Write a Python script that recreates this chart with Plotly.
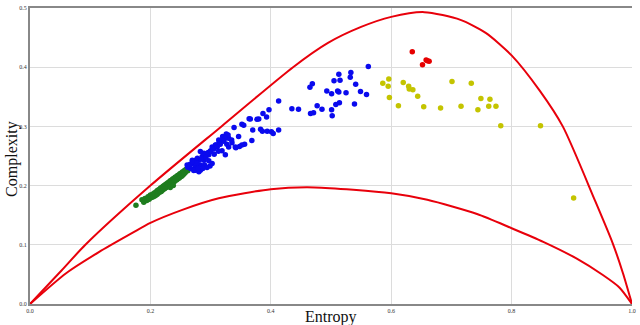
import plotly.graph_objects as go

# boundary curves (max / min complexity)
upper_h = [0, 0.05, 0.092, 0.2, 0.318, 0.437, 0.495, 0.55, 0.6, 0.655, 0.715, 0.757, 0.8, 0.847, 0.885, 0.938, 0.968, 0.985, 1.0]
upper_c = [0, 0.054, 0.1, 0.2, 0.3, 0.4, 0.441, 0.468, 0.485, 0.493, 0.48, 0.458, 0.42, 0.36, 0.3, 0.176, 0.1025, 0.052, 0]

lower_h = [0, 0.06, 0.115, 0.17, 0.2, 0.253, 0.3135, 0.4, 0.473, 0.6, 0.66, 0.7426, 0.8, 0.8526, 0.9076, 0.9516, 0.979, 1.0]
lower_c = [0, 0.052, 0.088, 0.12, 0.137, 0.159, 0.1785, 0.194, 0.197, 0.187, 0.176, 0.152, 0.128, 0.105, 0.077, 0.049, 0.028, 0]

green_h = [0.176, 0.186, 0.189, 0.191, 0.194, 0.196, 0.198, 0.200, 0.202, 0.204, 0.205, 0.207, 0.208, 0.210,
           0.211, 0.212, 0.213, 0.215, 0.216, 0.217, 0.218, 0.219, 0.220, 0.221, 0.222, 0.223, 0.224, 0.225,
           0.226, 0.227, 0.228, 0.229, 0.230, 0.231, 0.232, 0.233, 0.234, 0.235, 0.236, 0.237, 0.238, 0.239,
           0.240, 0.241, 0.242, 0.243, 0.244, 0.245, 0.246, 0.247, 0.248, 0.249, 0.250, 0.251, 0.252, 0.253,
           0.254, 0.255, 0.256, 0.257, 0.258, 0.260, 0.262, 0.233, 0.238]
green_c = [0.167, 0.176, 0.172, 0.178, 0.175, 0.181, 0.177, 0.184, 0.180, 0.186, 0.181, 0.188, 0.183, 0.190,
           0.185, 0.192, 0.187, 0.194, 0.189, 0.196, 0.190, 0.197, 0.192, 0.199, 0.194, 0.200, 0.195, 0.202,
           0.197, 0.203, 0.198, 0.205, 0.200, 0.206, 0.201, 0.208, 0.203, 0.209, 0.204, 0.211, 0.206, 0.212,
           0.207, 0.214, 0.209, 0.215, 0.210, 0.217, 0.212, 0.218, 0.213, 0.220, 0.215, 0.221, 0.216, 0.223,
           0.218, 0.224, 0.220, 0.226, 0.222, 0.228, 0.225, 0.197, 0.200]

blue_h = [0.562, 0.513, 0.533, 0.532, 0.505, 0.515, 0.541, 0.469, 0.465, 0.493, 0.501, 0.511, 0.513, 0.525,
          0.549, 0.559, 0.539, 0.514, 0.508, 0.477, 0.485, 0.471, 0.466, 0.501, 0.502, 0.435, 0.446, 0.413,
          0.397, 0.387, 0.393, 0.380, 0.377, 0.366, 0.364, 0.370, 0.383, 0.386, 0.394, 0.401, 0.404, 0.413,
          0.352, 0.355, 0.339, 0.326, 0.320, 0.3135, 0.330, 0.3355, 0.3465, 0.3685, 0.3565, 0.352, 0.348,
          0.342, 0.341, 0.330, 0.319, 0.3245, 0.308, 0.3025, 0.300, 0.297, 0.290, 0.286, 0.2805, 0.275,
          0.2695, 0.264, 0.275, 0.283, 0.290, 0.297, 0.299, 0.3025, 0.275, 0.267, 0.262, 0.283, 0.294,
          0.289, 0.329, 0.324, 0.319, 0.314, 0.309, 0.300, 0.289, 0.283, 0.278, 0.2695, 0.261, 0.2805,
          0.272, 0.335, 0.266, 0.271, 0.277, 0.285, 0.292, 0.296, 0.305, 0.311, 0.316, 0.322, 0.287,
          0.279, 0.306, 0.313, 0.327]
blue_c = [0.401, 0.388, 0.391, 0.383, 0.377, 0.378, 0.371, 0.372, 0.366, 0.360, 0.355, 0.360, 0.358, 0.357,
          0.359, 0.354, 0.338, 0.340, 0.337, 0.335, 0.329, 0.323, 0.322, 0.328, 0.318, 0.330, 0.329, 0.343,
          0.328, 0.322, 0.316, 0.3125, 0.312, 0.3125, 0.313, 0.294, 0.295, 0.292, 0.292, 0.291, 0.288, 0.294,
          0.3035, 0.302, 0.298, 0.287, 0.283, 0.277, 0.280, 0.2725, 0.283, 0.276, 0.270, 0.2685, 0.266,
          0.264, 0.265, 0.265, 0.259, 0.252, 0.2685, 0.265, 0.259, 0.252, 0.253, 0.249, 0.243, 0.243,
          0.2375, 0.233, 0.232, 0.235, 0.235, 0.242, 0.233, 0.2375, 0.226, 0.229, 0.231, 0.226, 0.2305,
          0.243, 0.2855, 0.280, 0.277, 0.272, 0.2685, 0.2575, 0.2545, 0.2575, 0.246, 0.243, 0.235, 0.2235,
          0.2255, 0.277, 0.236, 0.240, 0.238, 0.245, 0.248, 0.256, 0.262, 0.265, 0.270, 0.275, 0.229,
          0.229, 0.253, 0.258, 0.270]

yellow_h = [0.586, 0.596, 0.595, 0.597, 0.612, 0.620, 0.629, 0.630, 0.636, 0.644, 0.654, 0.682, 0.701,
            0.716, 0.733, 0.744, 0.749, 0.762, 0.764, 0.774, 0.782, 0.848, 0.903]
yellow_c = [0.373, 0.380, 0.368, 0.349, 0.335, 0.374, 0.368, 0.363, 0.362, 0.351, 0.333, 0.331, 0.376,
            0.334, 0.373, 0.328, 0.347, 0.334, 0.346, 0.334, 0.301, 0.301, 0.179]

red_h = [0.635, 0.652, 0.658, 0.660, 0.663]
red_c = [0.426, 0.404, 0.412, 0.411, 0.410]

fig = go.Figure()

for h, c in [(upper_h, upper_c), (lower_h, lower_c)]:
    fig.add_trace(go.Scatter(x=h, y=c, mode='lines',
                             line=dict(color='#e8000b', width=2, shape='spline', smoothing=0.7),
                             hoverinfo='skip'))

for h, c, col in [(green_h, green_c, '#1e7d1e'), (blue_h, blue_c, '#0a0aee'),
                  (yellow_h, yellow_c, '#c4c400'), (red_h, red_c, '#e60000')]:
    fig.add_trace(go.Scatter(x=h, y=c, mode='markers', marker=dict(color=col, size=5.5, line=dict(width=0))))

axis_common = dict(
    showgrid=True, gridcolor='#dcdcdc', gridwidth=1,
    showline=True, linecolor='#888888', linewidth=2,
    zeroline=False, ticks='', tickformat='.1f',
    tickfont=dict(family='Liberation Serif', size=6, color='#333333'),
)

fig.update_xaxes(range=[0, 1], dtick=0.2, mirror=True, **axis_common)
fig.update_yaxes(range=[0, 0.5], dtick=0.1, **axis_common)

fig.add_annotation(text='Entropy', xref='paper', yref='paper', x=0.5, y=-0.044,
                   xanchor='center', yanchor='middle', showarrow=False,
                   font=dict(family='Liberation Serif', size=16, color='#111111'))
fig.add_annotation(text='Complexity', xref='paper', yref='paper', x=-0.03, y=0.49,
                   xanchor='center', yanchor='middle', textangle=-90, showarrow=False,
                   font=dict(family='Liberation Serif', size=16, color='#111111'))

fig.update_layout(
    width=640, height=325,
    margin=dict(l=30, r=4, t=8, b=21),
    plot_bgcolor='white', paper_bgcolor='white',
    showlegend=False,
)

# page body has a default 8px margin; drop it so the figure fills the window
fig.write_html("out.html", config={'displayModeBar': False},
               post_script="document.body.style.margin='0';")
